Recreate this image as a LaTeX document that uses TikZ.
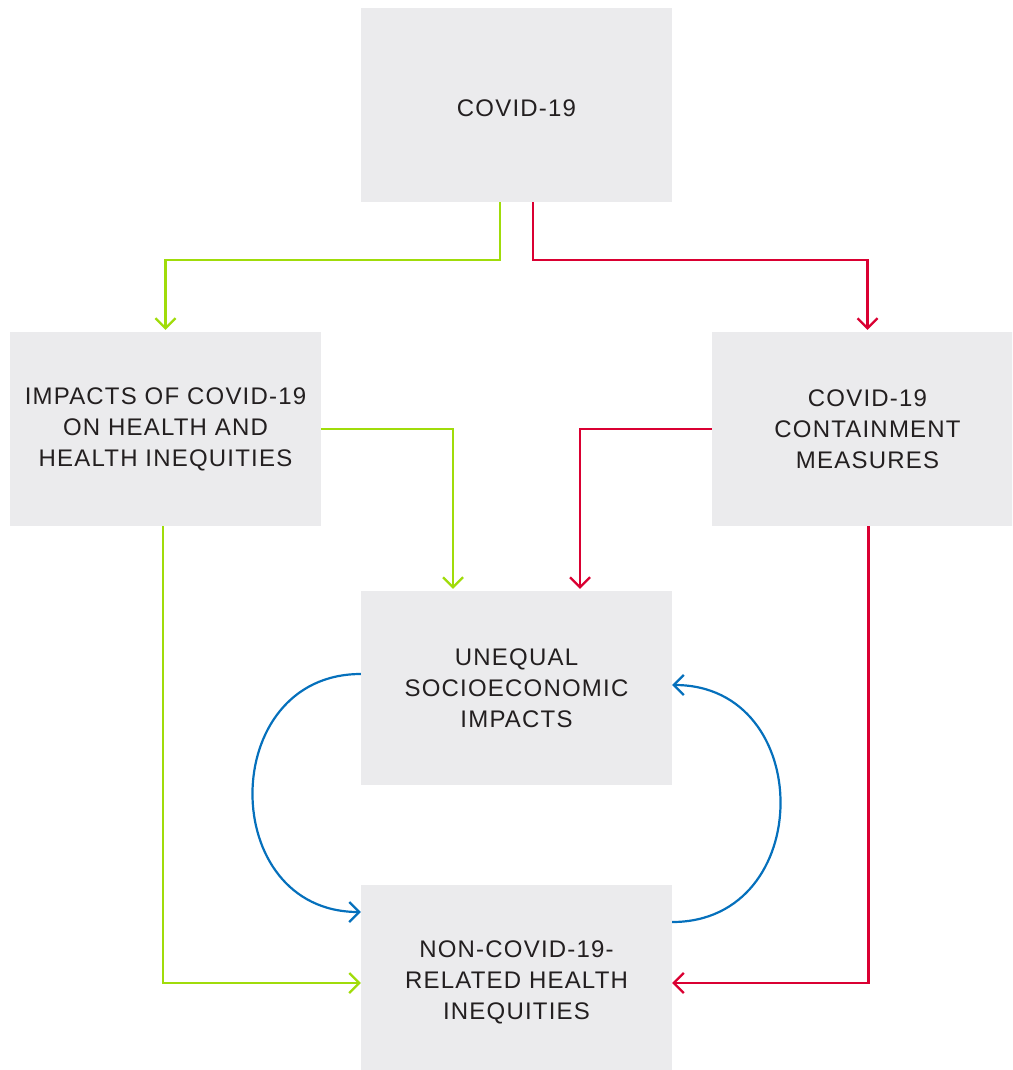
\documentclass[tikz,border=0pt]{standalone}
\usepackage{fontspec}
\setmainfont[LetterSpace=5]{Liberation Sans}
\usetikzlibrary{arrows.meta,calc}
\definecolor{boxfill}{RGB}{235,235,237}
\definecolor{txt}{RGB}{35,31,32}
\definecolor{cgreen}{RGB}{160,220,10}
\definecolor{cred}{RGB}{218,0,50}
\definecolor{cblue}{RGB}{5,112,188}
\tikzset{
  boxnode/.style={fill=boxfill, minimum width=311pt, minimum height=194pt, inner sep=0pt,
    align=center, text=txt, font=\fontsize{24}{31}\selectfont,
    execute at begin node={\rule{0pt}{23pt}}},
  conn/.style={line width=2.2pt, -{Straight Barb[length=10pt,width=20pt,line width=2.2pt]}},
  gconn/.style={conn, draw=cgreen},
  rconn/.style={conn, draw=cred},
  bconn/.style={conn, draw=cblue},
}
\begin{document}
\begin{tikzpicture}[x=1pt,y=-1pt]
\useasboundingbox (0,0) rectangle (1012,1070);
\clip (0,0) rectangle (1012,1070);
\node[boxnode] (top) at (516.5,105) {COVID-19};
\node[boxnode] (left) at (165.5,429) {IMPACTS OF COVID-19\\ON HEALTH AND\\HEALTH INEQUITIES};
\node[boxnode] (right) at (867.5,429) {COVID-19\\CONTAINMENT\\MEASURES};
\node[boxnode] (mid) at (516.5,688) {UNEQUAL\\SOCIOECONOMIC\\IMPACTS};
\node[boxnode] (bot) at (516.5,982) {NON-COVID-19-\\RELATED HEALTH\\INEQUITIES};
% top to second row
\draw[gconn, shorten >=2pt] ([xshift=-16.5pt]top.south) -- ++(0,58) -| (left.north);
\draw[rconn, shorten >=2pt] ([xshift=16.5pt]top.south) -- ++(0,58) -| (right.north);
% second row to middle
\draw[gconn, shorten >=2pt] (left.east) -| ([xshift=-63.5pt]mid.north);
\draw[rconn, shorten >=2pt] (right.west) -| ([xshift=63.5pt]mid.north);
% second row to bottom
\draw[gconn] ([xshift=-2.5pt]left.south) |- ([yshift=-1pt]bot.west);
\draw[rconn] ([xshift=1pt]right.south) |- ([yshift=-1pt]bot.east);
% feedback loop
\draw[bconn] ([yshift=14pt]mid.west) .. controls +(-144,0) and +(-144,0) .. ([yshift=70pt]bot.west);
\draw[bconn] ([yshift=60pt]bot.east) .. controls +(144,0) and +(144,0) .. ([yshift=3pt]mid.east);
\end{tikzpicture}
\end{document}
